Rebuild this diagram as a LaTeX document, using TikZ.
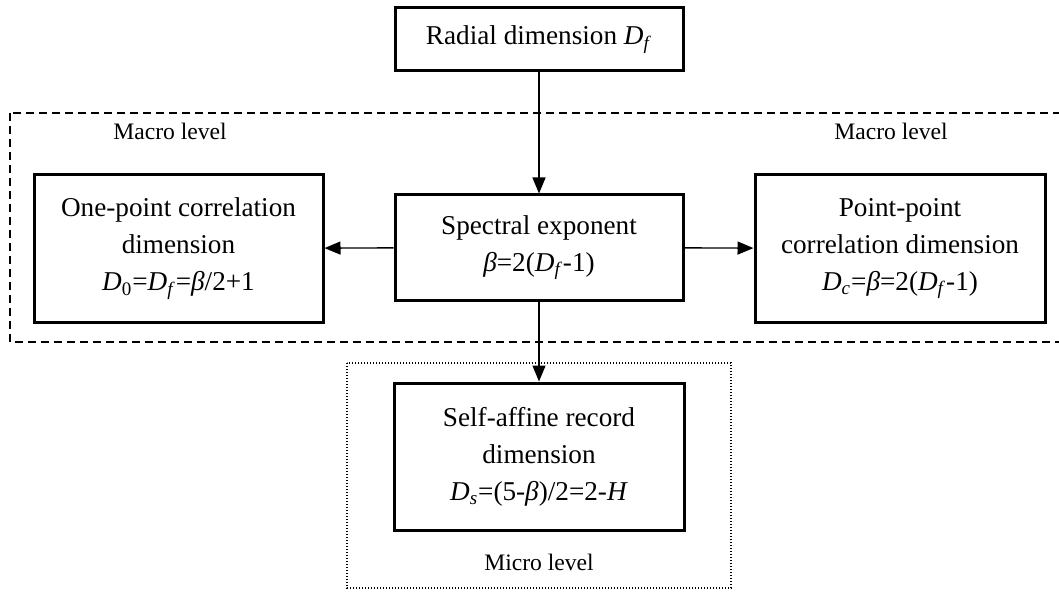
\documentclass[tikz,border=0pt]{standalone}
\usepackage{fontspec}
\setmainfont{Liberation Serif}
\usetikzlibrary{arrows.meta}
\newcommand{\Dsub}[1]{\textit{D}\textsubscript{#1}}
\begin{document}
\begin{tikzpicture}[x=0.5pt,y=-0.5pt]
        \tikzstyle{dimbox}=[draw,line width=1.5pt,align=center,inner sep=2pt,font=\fontsize{13.6}{18.5}\selectfont]
        \tikzstyle{levellabel}=[font=\fontsize{11.8}{13}\selectfont]
        \tikzstyle{flow}=[line width=0.7pt,-{Triangle[length=8pt,width=6.5pt]}]
        \useasboundingbox (0,0) rectangle (1059,593);

        % level frames
        \begin{scope}
        \clip (0,0) rectangle (1059,593);
        \draw[line width=0.8pt,dash pattern=on 4pt off 2.5pt] (10,113) rectangle (1080,342);
        \end{scope}
        \draw[line width=0.7pt,dash pattern=on 0.6pt off 0.9pt] (347,363) rectangle (731,588);

        % boxes
        \node(radial)[dimbox,minimum width=144pt,minimum height=31.5pt] at (539,39.5) {Radial dimension \Dsub{\textit{f}}};
        \node(spectral)[dimbox,minimum width=144pt,minimum height=52.5pt] at (539,247.5) {Spectral exponent\\\textit{β}=2(\Dsub{\textit{f}}-1)};
        \node(onepoint)[dimbox,minimum width=144.5pt,minimum height=73.5pt] at (178.5,248.5) {One-point correlation\\dimension\\\Dsub{0}=\Dsub{\textit{f}}=\textit{β}/2+1};
        \node(pointpoint)[dimbox,minimum width=145pt,minimum height=73.5pt] at (900,248.5) {Point-point\\correlation dimension\\\Dsub{\textit{c}}=\textit{β}=2(\Dsub{\textit{f}}-1)};
        \node(selfaffine)[dimbox,minimum width=145pt,minimum height=73.5pt] at (539,456.5) {Self-affine record\\dimension\\\Dsub{\textit{s}}=(5-\textit{β})/2=2-\textit{H}};

        % level labels
        \node(macroL)[levellabel] at (170,131) {Macro level};
        \node(macroR)[levellabel] at (891,131) {Macro level};
        \node(micro)[levellabel] at (539,562) {Micro level};

        % arrows
        \draw[flow] (radial) -- (spectral);
        \draw[flow] (spectral) -- (onepoint);
        \draw[flow] (spectral) -- (pointpoint);
        \draw[flow] (spectral) -- (selfaffine);
    \end{tikzpicture}
\end{document}
